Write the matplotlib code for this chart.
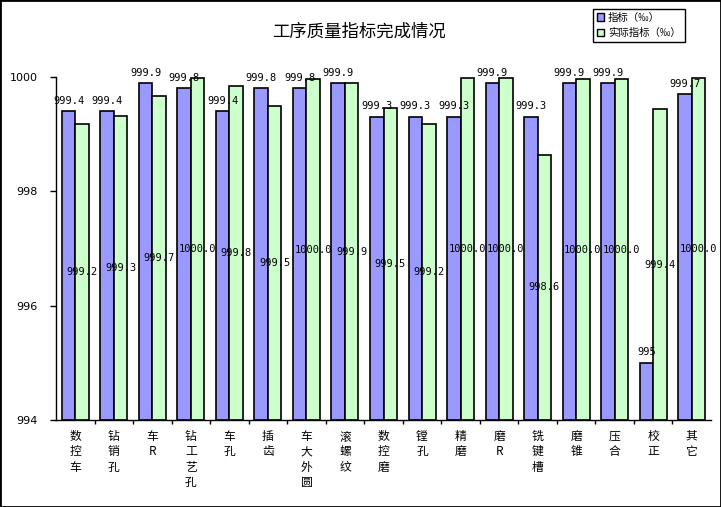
import matplotlib
matplotlib.use('Agg')
import matplotlib.pyplot as plt
from matplotlib.patches import Patch, Rectangle
import numpy as np

plt.rcParams['font.family'] = ['Noto Sans CJK SC', 'DejaVu Sans']

# data
categories = ['数控车', '钻销孔', '车R', '钻工艺孔', '车孔', '插齿', '车大外圆', '滚螺纹',
              '数控磨', '镗孔', '精磨', '磨R', '铣键槽', '磨锥', '压合', '校正', '其它']
plan = [999.4, 999.4, 999.89, 999.8, 999.4, 999.8, 999.8, 999.89, 999.3, 999.3,
        999.3, 999.89, 999.3, 999.89, 999.89, 995, 999.7]
actual = [999.17, 999.31, 999.67, 999.99, 999.84, 999.5, 999.96, 999.89, 999.46, 999.17,
          999.99, 999.99, 998.64, 999.96, 999.96, 999.44, 999.99]
series_names = ['指标（‰）', '实际指标（‰）']
title = '工序质量指标完成情况'


def fmt(v):
    return f'{v:g}' if v == round(v) else f'{v:.1f}'


fig = plt.figure(figsize=(7.21, 5.07), dpi=100, facecolor='white')
ax = fig.add_axes([56 / 721, 87 / 507, 655 / 721, 343 / 507])

x = np.arange(len(categories))
w = 0.35
b1 = ax.bar(x - w / 2, np.array(plan) - 994, w, bottom=994, color='#9999FF',
            edgecolor='black', linewidth=1.2, zorder=2)
b2 = ax.bar(x + w / 2, np.array(actual) - 994, w, bottom=994, color='#CCFFCC',
            edgecolor='black', linewidth=1.2, zorder=2)

# labels: plan above bar, actual in the middle of bar
for xi, v in zip(x, plan):
    ax.annotate(fmt(v), (xi - w / 2, v), xytext=(0, 4), textcoords='offset points',
                ha='center', va='bottom', fontsize=7.5, family='DejaVu Sans Mono',
                zorder=5, annotation_clip=False)
for xi, v in zip(x, actual):
    ax.text(xi + w / 2, (v + 994) / 2, fmt(v), ha='center', va='center',
            fontsize=7.5, family='DejaVu Sans Mono', zorder=5)

ax.set_xlim(-0.5, len(categories) - 0.5)
ax.set_ylim(994, 1000)
ax.set_yticks([994, 996, 998, 1000])
ax.set_yticklabels(['994', '996', '998', '1000'], family='DejaVu Sans', fontsize=8)
ax.tick_params(axis='y', direction='out', length=4, width=1, pad=9)

ax.set_xticks(x)
ax.set_xticklabels(['\n'.join(c) for c in categories], fontsize=8.5, linespacing=1.25,
                   va='top')
ax.set_xticks(np.arange(len(categories) - 1) + 0.5, minor=True)
ax.tick_params(axis='x', which='major', length=0, pad=7)
ax.tick_params(axis='x', which='minor', direction='out', length=3, width=1)

for s in ['top', 'right']:
    ax.spines[s].set_visible(False)
for s in ['left', 'bottom']:
    ax.spines[s].set_color('black')
    ax.spines[s].set_linewidth(1)

fig.text(359 / 721, 1 - 32 / 507, title, ha='center', va='center', fontsize=12.5)

handles = [Patch(facecolor='#9999FF', edgecolor='black', linewidth=1),
           Patch(facecolor='#CCFFCC', edgecolor='black', linewidth=1)]
leg = fig.legend(handles, series_names, loc='upper left',
                 bbox_to_anchor=(593 / 721, 1 - 9 / 507), fontsize=7.5,
                 handlelength=0.7, handleheight=0.7, handletextpad=0.4,
                 borderpad=0.35, labelspacing=0.5, fancybox=False,
                 edgecolor='black', framealpha=1, borderaxespad=0)
leg.get_frame().set_linewidth(1)

fig.patches.append(Rectangle((0, 0), 1, 1, transform=fig.transFigure, fill=False,
                             edgecolor='black', linewidth=2))

fig.savefig('out.png', dpi=100)
